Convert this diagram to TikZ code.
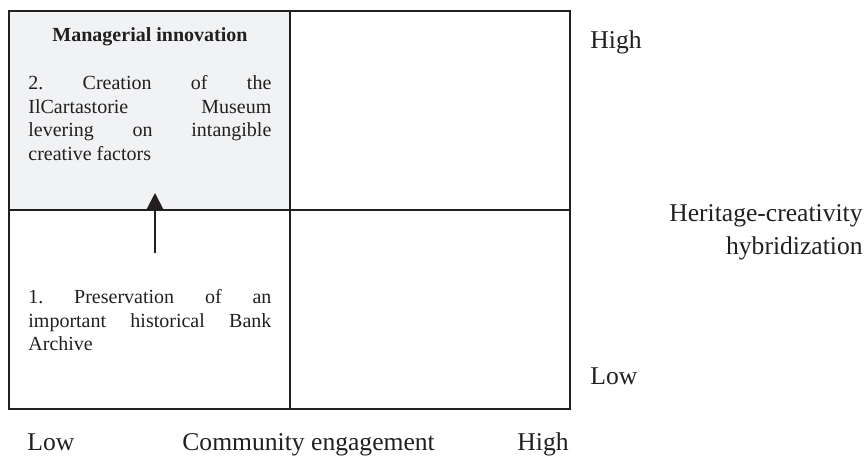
\documentclass[tikz,border=0pt]{standalone}
\usepackage{fontspec}
\setmainfont{Liberation Serif}
\usepackage{tikz}
\usetikzlibrary{positioning, arrows.meta}

\definecolor{inkblack}{RGB}{35,31,32}
\definecolor{cellgray}{RGB}{241,242,243}

\tikzset{
    gridline/.style={draw=inkblack, line width=1pt},
    celltext/.style={inner sep=0pt, anchor=north west, text width=121.5pt, align=justify,
        font=\fontsize{10}{11.8}\selectfont\frenchspacing, text=inkblack},
    axislabel/.style={inner sep=0pt, font=\fontsize{12.8}{16.5}\selectfont, text=inkblack}
}

\begin{document}
\begin{tikzpicture}[x=0.5pt, y=-0.5pt]
        \useasboundingbox (0,0) rectangle (867,456);

        % quadrants
        \fill[cellgray] (9,11) rectangle (290,210);
        \draw[gridline] (9,11) rectangle (570,409);
        \draw[gridline] (290,11) -- (290,409);
        \draw[gridline] (9,210) -- (570,210);

        \node[anchor=base, inner sep=0pt, text=inkblack, font=\bfseries\fontsize{10}{12}\selectfont](title) at (150,41) {Managerial innovation};
        \node[celltext](stage2) at (28,75) {2. Creation of the\linebreak IlCartastorie Museum\linebreak levering on intangible\linebreak creative factors};
        \node[celltext](stage1) at (28,289) {1. Preservation of an\linebreak important historical Bank\linebreak Archive};

        \coordinate (from) at (155,253);
        \coordinate (to) at (155,193);
        \draw[gridline, -{Triangle[length=8pt, width=8pt]}] (from) -- (to);

        % axes
        \node[axislabel, anchor=base west](yhigh) at (590,48) {High};
        \node[axislabel, anchor=base west](ylow) at (590,384) {Low};
        \node[axislabel, anchor=east, align=right](yname) at (863,232.5) {Heritage-creativity\\hybridization};

        \node[axislabel, anchor=base west](xlow) at (27,450) {Low};
        \node[axislabel, anchor=base west](xname) at (182,450) {Community engagement};
        \node[axislabel, anchor=base west](xhigh) at (517,450) {High};
    \end{tikzpicture}
\end{document}
